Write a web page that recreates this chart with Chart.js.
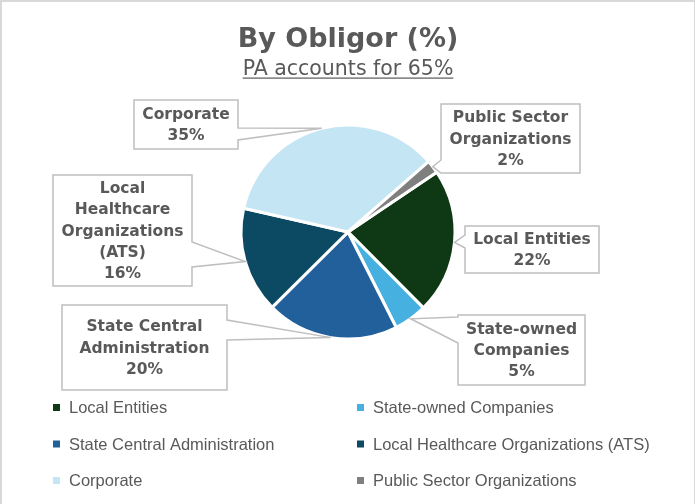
<!DOCTYPE html>
<html><head><meta charset="utf-8">
<script src="https://cdn.jsdelivr.net/npm/chart.js@4.4.0/dist/chart.umd.min.js"></script>
<style>
html,body{margin:0;padding:0;background:#fff;}
#wrap{position:relative;width:695px;height:504px;overflow:hidden;}
canvas{position:absolute;left:0;top:0;}
</style></head>
<body>
<div id="wrap"><canvas id="c" width="695" height="504"></canvas></div>
<script>
const categories = ['Local Entities','State-owned Companies','State Central Administration','Local Healthcare Organizations (ATS)','Corporate','Public Sector Organizations'];
const shares = [22,5,20,16,35,2];
const sliceColors = ['#0F3914','#46B0E0','#22609C','#0B4A62','#C4E5F4','#7F7F7F'];
const chartTitle = 'By Obligor (%)';
const chartSubtitle = 'PA accounts for 65%';

const calloutBoxes = [
  {x:465,y:226,w:134,h:47,side:'left',b0:235,b1:248},
  {x:458,y:315,w:127,h:70,side:'left',b0:317,b1:343},
  {x:62,y:305,w:165,h:85,side:'right',b0:320,b1:340},
  {x:53,y:175,w:139,h:111,side:'right',b0:242,b1:267},
  {x:134,y:100,w:104,h:49,side:'right',b0:128,b1:140},
  {x:441,y:104,w:139,h:69,side:'left',b0:160,b1:173}
];
const legendLayout = {cols:[53,357], rows:[407.5,444,480.5], box:7, gap:9};
const textColor = '#595959';

function wrapWords(ctx, text, maxW){
  const words = text.split(' ');
  const lines = [];
  let cur = '';
  for (const w of words){
    const t = cur ? cur + ' ' + w : w;
    if (cur && ctx.measureText(t).width > maxW){ lines.push(cur); cur = w; }
    else cur = t;
  }
  if (cur) lines.push(cur);
  return lines;
}

const decorPlugin = {
  id:'decor',
  beforeDraw(chart){
    const ctx = chart.ctx;
    ctx.save();
    ctx.fillStyle = '#fff';
    ctx.fillRect(0,0,chart.width,chart.height);
    ctx.fillStyle = '#d9d9d9';
    ctx.fillRect(0,0,chart.width,2);
    ctx.fillRect(0,0,2,chart.height);
    ctx.fillRect(chart.width-1,0,1,chart.height);
    ctx.fillStyle = textColor;
    ctx.textAlign = 'center';
    ctx.textBaseline = 'alphabetic';
    ctx.font = 'bold 27px "DejaVu Sans"';
    ctx.fillText(chartTitle, 348, 47);
    ctx.font = '20.5px "DejaVu Sans"';
    ctx.fillText(chartSubtitle, 348, 75);
    const sw = ctx.measureText(chartSubtitle).width;
    ctx.fillRect(348 - sw/2, 77.5, sw, 1.2);
    ctx.restore();
  },
  afterDatasetsDraw(chart){
    const ctx = chart.ctx;
    const meta = chart.getDatasetMeta(0);
    const data = chart.data.datasets[0].data;
    ctx.save();
    meta.data.forEach((arc, i) => {
      const b = calloutBoxes[i];
      const mid = (arc.startAngle + arc.endAngle) / 2;
      const tx = arc.x + Math.cos(mid) * arc.outerRadius;
      const ty = arc.y + Math.sin(mid) * arc.outerRadius;
      ctx.beginPath();
      if (b.side === 'left'){
        ctx.moveTo(b.x, b.y);
        ctx.lineTo(b.x + b.w, b.y);
        ctx.lineTo(b.x + b.w, b.y + b.h);
        ctx.lineTo(b.x, b.y + b.h);
        ctx.lineTo(b.x, b.b1);
        ctx.lineTo(tx, ty);
        ctx.lineTo(b.x, b.b0);
        ctx.closePath();
      } else {
        ctx.moveTo(b.x, b.y);
        ctx.lineTo(b.x + b.w, b.y);
        ctx.lineTo(b.x + b.w, b.b0);
        ctx.lineTo(tx, ty);
        ctx.lineTo(b.x + b.w, b.b1);
        ctx.lineTo(b.x + b.w, b.y + b.h);
        ctx.lineTo(b.x, b.y + b.h);
        ctx.closePath();
      }
      ctx.fillStyle = '#fff';
      ctx.fill();
      ctx.strokeStyle = '#BFBFBF';
      ctx.lineWidth = 1.5;
      ctx.lineJoin = 'miter';
      ctx.stroke();
      ctx.font = 'bold 15.5px "DejaVu Sans"';
      ctx.fillStyle = textColor;
      ctx.textAlign = 'center';
      ctx.textBaseline = 'middle';
      const lines = wrapWords(ctx, chart.data.labels[i], b.w - 10);
      lines.push(data[i] + '%');
      const lh = 21.3;
      const cy = b.y + b.h/2 + 1;
      const y0 = cy - (lines.length - 1) * lh / 2;
      lines.forEach((ln, k) => ctx.fillText(ln, b.x + b.w/2, y0 + k*lh));
    });
    ctx.font = '16.5px "Liberation Sans"';
    ctx.textAlign = 'left';
    ctx.textBaseline = 'middle';
    const L = legendLayout;
    chart.data.labels.forEach((lab, i) => {
      const cx = L.cols[i % 2];
      const cy = L.rows[Math.floor(i / 2)];
      ctx.fillStyle = sliceColors[i];
      ctx.fillRect(cx, cy - L.box/2, L.box, L.box);
      ctx.fillStyle = textColor;
      ctx.fillText(lab, cx + L.box + L.gap, cy + 1);
    });
    ctx.restore();
  }
};

new Chart(document.getElementById('c'), {
  type:'pie',
  data:{
    labels:categories,
    datasets:[{data:shares, backgroundColor:sliceColors, borderColor:'#ffffff', borderWidth:3, hoverOffset:0}]
  },
  options:{
    responsive:false,
    animation:false,
    rotation:56,
    radius:107,
    layout:{padding:{left:131,right:130,top:108,bottom:148}},
    plugins:{legend:{display:false}, tooltip:{enabled:false}, title:{display:false}}
  },
  plugins:[decorPlugin]
});
</script>
</body></html>
